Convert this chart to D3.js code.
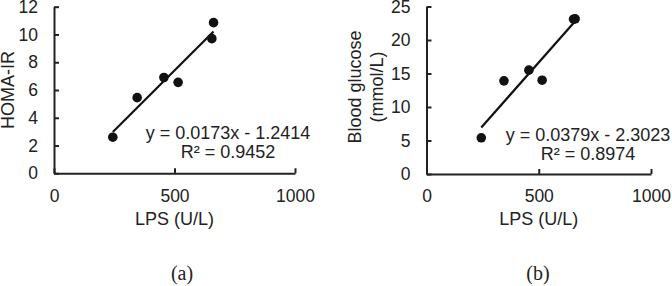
<!DOCTYPE html>
<html>
<head>
<meta charset="utf-8">
<script src="https://cdn.jsdelivr.net/npm/d3@7"></script>
<style>
  body { margin: 0; background: #fff; }
  svg text { font-family: "Liberation Sans", Arial, sans-serif; fill: #222; }
</style>
</head>
<body>
<div id="chart"></div>
<script>
// LPS (U/L) per sample, shared by both panels
const lps = [244, 345, 456, 515, 655, 662];
// panel (a) HOMA-IR
const homa = [2.6, 5.45, 6.9, 6.55, 9.7, 10.85];
// panel (b) blood glucose (mmol/L)
const glucose = [5.4, 13.9, 15.5, 14.0, 23.1, 23.15];

const xTicks = [0, 500, 1000];
const homaTicks = [0, 2, 4, 6, 8, 10, 12];
const glucoseTicks = [0, 5, 10, 15, 20, 25];

const panels = [
  { values: homa, yMax: 12, yTicks: homaTicks, slope: 0.0173, icpt: -1.2414,
    eq: "y = 0.0173x - 1.2414", r2: "R² = 0.9452", yTitle: ["HOMA-IR"], label: "(a)",
    left: 54, right: 295, top: 6.7, bottom: 173.3, eqX: 228, eqY: 139, titleX: [13.5], titleY: 90, labX: 182 },
  { values: glucose, yMax: 25, yTicks: glucoseTicks, slope: 0.0379, icpt: -2.3023,
    eq: "y = 0.0379x - 2.3023", r2: "R² = 0.8974", yTitle: ["Blood glucose", "(mmol/L)"], label: "(b)",
    left: 426.5, right: 651, top: 6.5, bottom: 174, eqX: 588, eqY: 141, titleX: [361, 383], titleY: 87, labX: 538 }
];

const svg = d3.select("#chart").append("svg")
  .attr("width", 672)
  .attr("height", 286);

panels.forEach(p => {
  const x = d3.scaleLinear().domain([0, 1000]).range([p.left, p.right]);
  const y = d3.scaleLinear().domain([0, p.yMax]).range([p.bottom, p.top]);
  const g = svg.append("g");

  // axes, ticks pointing inwards
  const xAxis = g.append("g")
    .attr("transform", `translate(0,${p.bottom})`)
    .call(d3.axisBottom(x).tickValues(xTicks).tickFormat(d3.format("d"))
      .tickSizeInner(-5).tickSizeOuter(0).tickPadding(16));
  const yAxis = g.append("g")
    .attr("transform", `translate(${p.left},0)`)
    .call(d3.axisLeft(y).tickValues(p.yTicks).tickSizeInner(-5).tickSizeOuter(0).tickPadding(16));
  [xAxis, yAxis].forEach(a => {
    a.select(".domain").attr("stroke", "#222").attr("stroke-width", 2);
    a.selectAll(".tick line").attr("stroke", "#222").attr("stroke-width", 2);
    a.selectAll(".tick text").attr("font-size", 17.5).attr("fill", "#222")
      .style("font-family", '"Liberation Sans", Arial, sans-serif');
  });

  // trend line over the data range
  const ext = d3.extent(lps);
  g.append("line")
    .attr("x1", x(ext[0])).attr("y1", y(p.slope * ext[0] + p.icpt))
    .attr("x2", x(ext[1])).attr("y2", y(p.slope * ext[1] + p.icpt))
    .attr("stroke", "#111").attr("stroke-width", 2.2);

  // points
  g.selectAll("circle")
    .data(lps)
    .join("circle")
    .attr("cx", d => x(d))
    .attr("cy", (d, i) => y(p.values[i]))
    .attr("r", 4.8)
    .attr("fill", "#111");

  // equation and R²
  g.append("text").attr("x", p.eqX).attr("y", p.eqY)
    .attr("text-anchor", "middle").attr("font-size", 18).text(p.eq);
  g.append("text").attr("x", p.eqX).attr("y", p.eqY + 19)
    .attr("text-anchor", "middle").attr("font-size", 18).text(p.r2);

  // axis titles
  g.append("text")
    .attr("x", (p.left + p.right) / 2).attr("y", 225)
    .attr("text-anchor", "middle").attr("font-size", 18)
    .text("LPS (U/L)");
  p.yTitle.forEach((t, i) => {
    g.append("text")
      .attr("transform", `translate(${p.titleX[i]},${p.titleY}) rotate(-90)`)
      .attr("text-anchor", "middle").attr("font-size", 18)
      .text(t);
  });

  // panel label
  g.append("text")
    .attr("x", p.labX).attr("y", 280)
    .attr("text-anchor", "middle").attr("font-size", 20)
    .style("font-family", '"Liberation Serif", "Times New Roman", serif')
    .text(p.label);
});
</script>
</body>
</html>
